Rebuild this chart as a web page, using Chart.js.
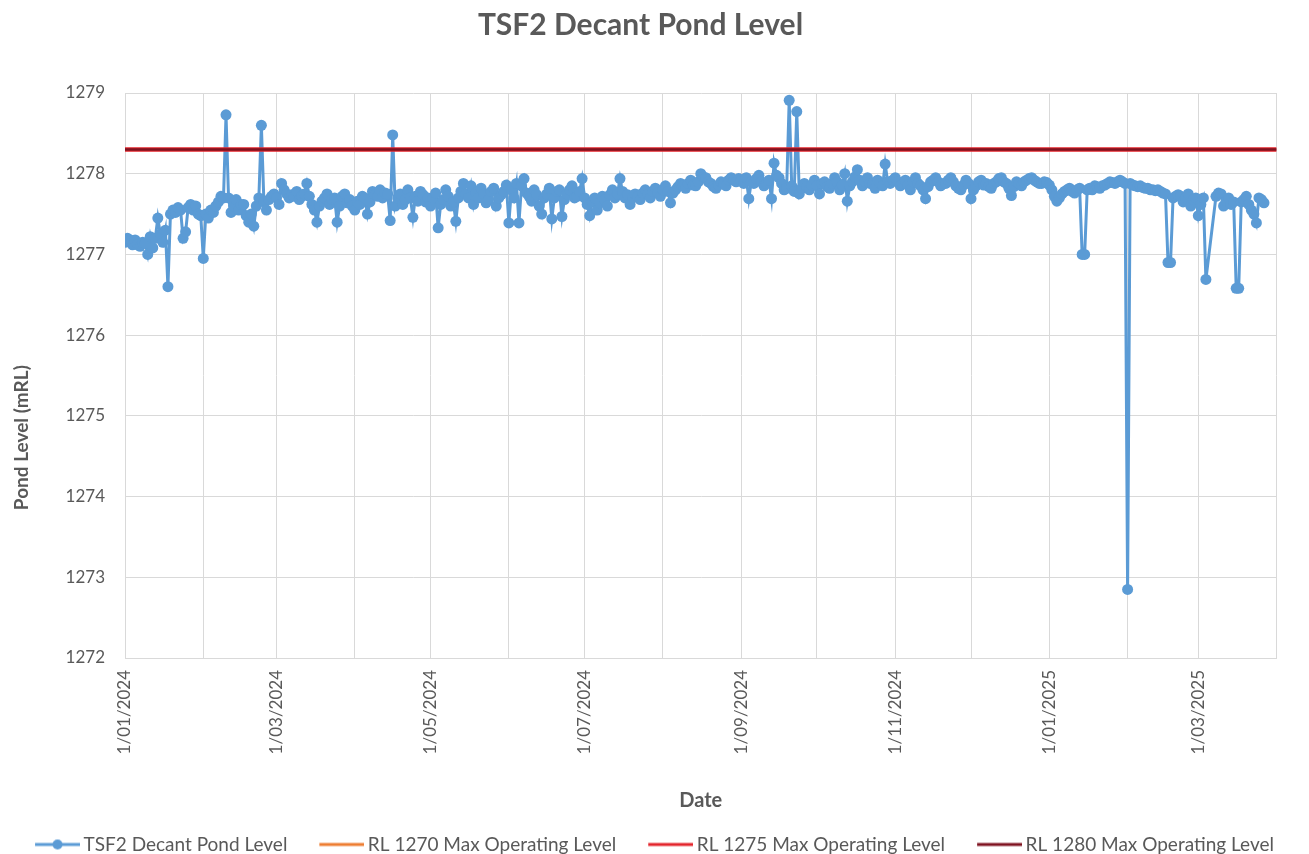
<!DOCTYPE html>
<html>
<head>
<meta charset="utf-8">
<script src="https://cdn.jsdelivr.net/npm/chart.js@4.4.1/dist/chart.umd.min.js"></script>
<style>
  html, body { margin: 0; padding: 0; background: #fff; }
  #wrap { width: 1309px; height: 854px; }
</style>
</head>
<body>
<div id="wrap"><canvas id="chart" width="1309" height="854"></canvas></div>
<script>
// daily readings: date and pond level (mRL)
const dates = [
  // Jan 2024
  '2024-01-01','2024-01-02','2024-01-03','2024-01-04','2024-01-05','2024-01-06','2024-01-07','2024-01-08','2024-01-09','2024-01-10',
  '2024-01-11','2024-01-12','2024-01-13','2024-01-14','2024-01-15','2024-01-16','2024-01-17','2024-01-18','2024-01-19','2024-01-20',
  '2024-01-21','2024-01-22','2024-01-23','2024-01-24','2024-01-25','2024-01-26','2024-01-27','2024-01-28','2024-01-29','2024-01-30','2024-01-31',
  // Feb 2024
  '2024-02-01','2024-02-02','2024-02-03','2024-02-04','2024-02-05','2024-02-06','2024-02-07','2024-02-08','2024-02-09','2024-02-10',
  '2024-02-11','2024-02-12','2024-02-13','2024-02-14','2024-02-15','2024-02-16','2024-02-17','2024-02-18','2024-02-19','2024-02-20',
  '2024-02-21','2024-02-22','2024-02-23','2024-02-24','2024-02-25','2024-02-26','2024-02-27','2024-02-28','2024-02-29',
  // Mar 2024
  '2024-03-01','2024-03-02','2024-03-03','2024-03-04','2024-03-05','2024-03-06','2024-03-07','2024-03-08','2024-03-09','2024-03-10',
  '2024-03-11','2024-03-12','2024-03-13','2024-03-14','2024-03-15','2024-03-16','2024-03-17','2024-03-18','2024-03-19','2024-03-20',
  '2024-03-21','2024-03-22','2024-03-23','2024-03-24','2024-03-25','2024-03-26','2024-03-27','2024-03-28','2024-03-29','2024-03-30','2024-03-31',
  // Apr 2024
  '2024-04-01','2024-04-02','2024-04-03','2024-04-04','2024-04-05','2024-04-06','2024-04-07','2024-04-08','2024-04-09','2024-04-10',
  '2024-04-11','2024-04-12','2024-04-13','2024-04-14','2024-04-15','2024-04-16','2024-04-17','2024-04-18','2024-04-19','2024-04-20',
  '2024-04-21','2024-04-22','2024-04-23','2024-04-24','2024-04-25','2024-04-26','2024-04-27','2024-04-28','2024-04-29','2024-04-30',
  // May 2024
  '2024-05-01','2024-05-02','2024-05-03','2024-05-04','2024-05-05','2024-05-06','2024-05-07','2024-05-08','2024-05-09','2024-05-10',
  '2024-05-11','2024-05-12','2024-05-13','2024-05-14','2024-05-15','2024-05-16','2024-05-17','2024-05-18','2024-05-19','2024-05-20',
  '2024-05-21','2024-05-22','2024-05-23','2024-05-24','2024-05-25','2024-05-26','2024-05-27','2024-05-28','2024-05-29','2024-05-30','2024-05-31',
  // Jun 2024
  '2024-06-01','2024-06-02','2024-06-03','2024-06-04','2024-06-05','2024-06-06','2024-06-07','2024-06-08','2024-06-09','2024-06-10',
  '2024-06-11','2024-06-12','2024-06-13','2024-06-14','2024-06-15','2024-06-16','2024-06-17','2024-06-18','2024-06-19','2024-06-20',
  '2024-06-21','2024-06-22','2024-06-23','2024-06-24','2024-06-25','2024-06-26','2024-06-27','2024-06-28','2024-06-29','2024-06-30',
  // Jul 2024
  '2024-07-01','2024-07-02','2024-07-03','2024-07-04','2024-07-05','2024-07-06','2024-07-07','2024-07-08','2024-07-09','2024-07-10',
  '2024-07-11','2024-07-12','2024-07-13','2024-07-14','2024-07-15','2024-07-16','2024-07-17','2024-07-18','2024-07-19','2024-07-20',
  '2024-07-21','2024-07-22','2024-07-23','2024-07-24','2024-07-25','2024-07-26','2024-07-27','2024-07-28','2024-07-29','2024-07-30','2024-07-31',
  // Aug 2024
  '2024-08-01','2024-08-02','2024-08-03','2024-08-04','2024-08-05','2024-08-06','2024-08-07','2024-08-08','2024-08-09','2024-08-10',
  '2024-08-11','2024-08-12','2024-08-13','2024-08-14','2024-08-15','2024-08-16','2024-08-17','2024-08-18','2024-08-19','2024-08-20',
  '2024-08-21','2024-08-22','2024-08-23','2024-08-24','2024-08-25','2024-08-26','2024-08-27','2024-08-28','2024-08-29','2024-08-30','2024-08-31',
  // Sep 2024
  '2024-09-01','2024-09-02','2024-09-03','2024-09-04','2024-09-05','2024-09-06','2024-09-07','2024-09-08','2024-09-09','2024-09-10',
  '2024-09-11','2024-09-12','2024-09-13','2024-09-14','2024-09-15','2024-09-16','2024-09-17','2024-09-18','2024-09-19','2024-09-20',
  '2024-09-21','2024-09-22','2024-09-23','2024-09-24','2024-09-25','2024-09-26','2024-09-27','2024-09-28','2024-09-29','2024-09-30',
  // Oct 2024
  '2024-10-01','2024-10-02','2024-10-03','2024-10-04','2024-10-05','2024-10-06','2024-10-07','2024-10-08','2024-10-09','2024-10-10',
  '2024-10-11','2024-10-12','2024-10-13','2024-10-14','2024-10-15','2024-10-16','2024-10-17','2024-10-18','2024-10-19','2024-10-20',
  '2024-10-21','2024-10-22','2024-10-23','2024-10-24','2024-10-25','2024-10-26','2024-10-27','2024-10-28','2024-10-29','2024-10-30','2024-10-31',
  // Nov 2024
  '2024-11-01','2024-11-02','2024-11-03','2024-11-04','2024-11-05','2024-11-06','2024-11-07','2024-11-08','2024-11-09','2024-11-10',
  '2024-11-11','2024-11-12','2024-11-13','2024-11-14','2024-11-15','2024-11-16','2024-11-17','2024-11-18','2024-11-19','2024-11-20',
  '2024-11-21','2024-11-22','2024-11-23','2024-11-24','2024-11-25','2024-11-26','2024-11-27','2024-11-28','2024-11-29','2024-11-30',
  // Dec 2024
  '2024-12-01','2024-12-02','2024-12-03','2024-12-04','2024-12-05','2024-12-06','2024-12-07','2024-12-08','2024-12-09','2024-12-10',
  '2024-12-11','2024-12-12','2024-12-13','2024-12-14','2024-12-15','2024-12-16','2024-12-17','2024-12-18','2024-12-19','2024-12-20',
  '2024-12-21','2024-12-22','2024-12-23','2024-12-24','2024-12-25','2024-12-26','2024-12-27','2024-12-28','2024-12-29','2024-12-30','2024-12-31',
  // Jan 2025
  '2025-01-01','2025-01-02','2025-01-03','2025-01-04','2025-01-05','2025-01-06','2025-01-07','2025-01-08','2025-01-09','2025-01-10',
  '2025-01-11','2025-01-12','2025-01-13','2025-01-14','2025-01-15','2025-01-16','2025-01-17','2025-01-18','2025-01-19','2025-01-20',
  '2025-01-21','2025-01-22','2025-01-23','2025-01-24','2025-01-25','2025-01-26','2025-01-27','2025-01-28','2025-01-29','2025-01-30','2025-01-31',
  // Feb 2025
  '2025-02-01','2025-02-02','2025-02-03','2025-02-04','2025-02-05','2025-02-06','2025-02-07','2025-02-08','2025-02-09','2025-02-10',
  '2025-02-11','2025-02-12','2025-02-13','2025-02-14','2025-02-15','2025-02-16','2025-02-17','2025-02-18','2025-02-19','2025-02-20',
  '2025-02-21','2025-02-22','2025-02-23','2025-02-24','2025-02-25','2025-02-26','2025-02-27','2025-02-28',
  // Mar 2025
  '2025-03-01','2025-03-02','2025-03-03','2025-03-04','2025-03-08','2025-03-09','2025-03-10','2025-03-11','2025-03-12','2025-03-13',
  '2025-03-14','2025-03-15','2025-03-16','2025-03-17','2025-03-18','2025-03-19','2025-03-20','2025-03-21','2025-03-22','2025-03-23',
  '2025-03-24','2025-03-25','2025-03-26','2025-03-27'
];
const levels = [
  // Jan 2024
  1277.15,1277.20,1277.18,1277.12,1277.18,1277.12,1277.10,1277.15,1277.14,1277.00,
  1277.22,1277.08,1277.20,1277.45,1277.25,1277.15,1277.30,1276.60,1277.50,1277.55,
  1277.52,1277.58,1277.55,1277.20,1277.28,1277.58,1277.62,1277.55,1277.60,1277.50,1277.48,
  // Feb 2024
  1276.95,1277.50,1277.45,1277.55,1277.52,1277.60,1277.65,1277.72,1277.70,1278.73,
  1277.70,1277.52,1277.60,1277.68,1277.55,1277.62,1277.62,1277.48,1277.40,1277.50,
  1277.35,1277.60,1277.70,1278.60,1277.65,1277.55,1277.68,1277.72,1277.75,
  // Mar 2024
  1277.70,1277.62,1277.88,1277.80,1277.75,1277.70,1277.74,1277.72,1277.78,1277.68,
  1277.72,1277.75,1277.88,1277.72,1277.62,1277.55,1277.40,1277.60,1277.66,1277.70,
  1277.75,1277.62,1277.68,1277.70,1277.40,1277.60,1277.72,1277.75,1277.64,1277.68,1277.60,
  // Apr 2024
  1277.55,1277.66,1277.62,1277.72,1277.70,1277.50,1277.65,1277.78,1277.74,1277.72,
  1277.80,1277.70,1277.76,1277.75,1277.42,1278.48,1277.60,1277.70,1277.75,1277.62,
  1277.68,1277.80,1277.70,1277.46,1277.72,1277.66,1277.78,1277.74,1277.65,1277.70,
  // May 2024
  1277.60,1277.70,1277.76,1277.33,1277.62,1277.68,1277.80,1277.72,1277.60,1277.65,
  1277.41,1277.70,1277.78,1277.88,1277.75,1277.70,1277.85,1277.62,1277.76,1277.70,
  1277.82,1277.75,1277.64,1277.68,1277.78,1277.82,1277.60,1277.70,1277.74,1277.78,1277.86,
  // Jun 2024
  1277.39,1277.80,1277.70,1277.88,1277.39,1277.85,1277.94,1277.76,1277.72,1277.66,
  1277.80,1277.74,1277.60,1277.50,1277.70,1277.75,1277.82,1277.44,1277.70,1277.78,
  1277.80,1277.47,1277.68,1277.75,1277.80,1277.85,1277.70,1277.72,1277.78,1277.94,
  // Jul 2024
  1277.70,1277.62,1277.48,1277.65,1277.70,1277.55,1277.64,1277.72,1277.68,1277.60,
  1277.74,1277.80,1277.70,1277.75,1277.94,1277.78,1277.70,1277.74,1277.62,1277.70,
  1277.75,1277.72,1277.68,1277.76,1277.80,1277.74,1277.70,1277.78,1277.82,1277.76,1277.72,
  // Aug 2024
  1277.80,1277.85,1277.78,1277.64,1277.76,1277.80,1277.84,1277.88,1277.85,1277.82,
  1277.88,1277.92,1277.86,1277.85,1277.90,1278.00,1277.96,1277.95,1277.90,1277.88,
  1277.84,1277.82,1277.86,1277.90,1277.88,1277.85,1277.92,1277.95,1277.92,1277.90,1277.94,
  // Sep 2024
  1277.92,1277.88,1277.95,1277.69,1277.90,1277.88,1277.94,1277.98,1277.90,1277.85,
  1277.88,1277.92,1277.69,1278.13,1277.98,1277.95,1277.88,1277.80,1277.82,1278.91,
  1277.85,1277.78,1278.77,1277.75,1277.82,1277.88,1277.84,1277.80,1277.86,1277.92,
  // Oct 2024
  1277.85,1277.75,1277.88,1277.90,1277.84,1277.82,1277.88,1277.95,1277.90,1277.80,
  1277.86,1278.00,1277.66,1277.85,1277.90,1277.96,1278.05,1277.92,1277.85,1277.90,
  1277.95,1277.88,1277.88,1277.82,1277.92,1277.88,1277.85,1278.12,1277.90,1277.88,1277.92,
  // Nov 2024
  1277.95,1277.90,1277.85,1277.88,1277.92,1277.86,1277.80,1277.90,1277.95,1277.88,
  1277.85,1277.80,1277.69,1277.84,1277.90,1277.92,1277.95,1277.90,1277.85,1277.88,
  1277.88,1277.92,1277.95,1277.90,1277.85,1277.82,1277.80,1277.86,1277.92,1277.88,
  // Dec 2024
  1277.69,1277.80,1277.85,1277.90,1277.92,1277.86,1277.88,1277.84,1277.82,1277.88,
  1277.90,1277.94,1277.95,1277.90,1277.88,1277.82,1277.73,1277.84,1277.90,1277.88,
  1277.85,1277.90,1277.92,1277.94,1277.95,1277.92,1277.90,1277.88,1277.88,1277.90,1277.89,
  // Jan 2025
  1277.86,1277.80,1277.72,1277.66,1277.70,1277.75,1277.78,1277.80,1277.82,1277.78,
  1277.76,1277.80,1277.82,1277.00,1277.00,1277.80,1277.82,1277.80,1277.85,1277.84,
  1277.82,1277.85,1277.86,1277.88,1277.90,1277.89,1277.88,1277.90,1277.92,1277.90,1277.88,
  // Feb 2025
  1272.85,1277.88,1277.86,1277.85,1277.84,1277.85,1277.83,1277.82,1277.82,1277.80,
  1277.80,1277.79,1277.80,1277.78,1277.76,1277.75,1276.90,1276.90,1277.70,1277.72,
  1277.74,1277.72,1277.65,1277.70,1277.75,1277.60,1277.68,1277.70,
  // Mar 2025
  1277.48,1277.62,1277.70,1276.69,1277.72,1277.76,1277.75,1277.60,1277.66,1277.70,
  1277.62,1277.65,1276.58,1276.58,1277.65,1277.68,1277.72,1277.62,1277.55,1277.50,
  1277.39,1277.70,1277.68,1277.64
];

// operating level lines (start / end of the axis)
const rlDates = ['2024-01-01', '2025-04-01'];
const rl1270 = [1270, 1270];
const rl1275 = [1278.3, 1278.3];
const rl1280 = [1278.3, 1278.3];

// month gridlines and their labels
const monthTicks = [
  '2024-01-01','2024-02-01','2024-03-01','2024-04-01','2024-05-01','2024-06-01','2024-07-01','2024-08-01',
  '2024-09-01','2024-10-01','2024-11-01','2024-12-01','2025-01-01','2025-02-01','2025-03-01','2025-04-01'
];
const tickLabels = [
  '1/01/2024','','1/03/2024','','1/05/2024','','1/07/2024','',
  '1/09/2024','','1/11/2024','','1/01/2025','','1/03/2025',''
];

const seriesNames = ['TSF2 Decant Pond Level', 'RL 1270 Max Operating Level', 'RL 1275 Max Operating Level', 'RL 1280 Max Operating Level'];
const yTitle = 'Pond Level (mRL)';

if (dates.length !== levels.length) console.warn('length mismatch', dates.length, levels.length);

const t0 = Date.UTC(2024, 0, 1);
function dayNum(s) {
  const p = s.split('-').map(Number);
  return (Date.UTC(p[0], p[1] - 1, p[2]) - t0) / 86400000;
}
const tickDays = monthTicks.map(dayNum);

// legend key: transparent lead-in, then a 45px line (with a dot for the data series)
function legendIcon(color, dot) {
  const c = document.createElement('canvas');
  c.width = 79; c.height = 14;
  const g = c.getContext('2d');
  g.strokeStyle = color; g.lineWidth = 3;
  g.beginPath(); g.moveTo(34, 7); g.lineTo(79, 7); g.stroke();
  if (dot) {
    g.fillStyle = color;
    g.beginPath(); g.arc(56.5, 7, 5, 0, Math.PI * 2); g.fill();
  }
  return c;
}

Chart.defaults.font.family = 'Lato';
Chart.defaults.color = '#595959';

const gridColor = '#d9d9d9';
const textColor = '#595959';

// y axis title sits a little below the middle of the plot, as in the original
const yTitlePlugin = {
  id: 'yTitle',
  afterDraw(chart) {
    const c = chart.ctx;
    const area = chart.chartArea;
    c.save();
    c.translate(22, area.top + (area.bottom - area.top) * 0.61);
    c.rotate(-Math.PI / 2);
    c.font = 'bold 19px Lato';
    c.fillStyle = textColor;
    c.textAlign = 'center';
    c.textBaseline = 'middle';
    c.fillText(yTitle, 0, 0);
    c.restore();
  }
};

const ctx = document.getElementById('chart').getContext('2d');
new Chart(ctx, {
  type: 'line',
  data: {
    datasets: [
      {
        label: seriesNames[0],
        data: dates.map((d, i) => ({ x: dayNum(d), y: levels[i] })),
        borderColor: '#5B9BD5', backgroundColor: '#5B9BD5',
        borderWidth: 3, pointRadius: 5.5, pointBorderWidth: 0,
        pointBackgroundColor: '#5B9BD5', order: 3, icon: legendIcon('#5B9BD5', true)
      },
      {
        label: seriesNames[1],
        data: rlDates.map((d, i) => ({ x: dayNum(d), y: rl1270[i] })),
        borderColor: '#ED7D31', borderWidth: 3, pointRadius: 0, order: 2,
        icon: legendIcon('#ED7D31', false)
      },
      {
        label: seriesNames[2],
        data: rlDates.map((d, i) => ({ x: dayNum(d), y: rl1275[i] })),
        borderColor: '#E3242B', borderWidth: 4.5, pointRadius: 0, order: 1,
        icon: legendIcon('#E3242B', false)
      },
      {
        label: seriesNames[3],
        data: rlDates.map((d, i) => ({ x: dayNum(d), y: rl1280[i] })),
        borderColor: '#7F1320', borderWidth: 2.5, pointRadius: 0, order: 0,
        icon: legendIcon('#7F1320', false)
      }
    ]
  },
  plugins: [yTitlePlugin],
  options: {
    responsive: false,
    devicePixelRatio: 1,
    animation: false,
    layout: { padding: { left: 0, right: 28, top: 0, bottom: -10 } },
    plugins: {
      tooltip: { enabled: false },
      title: {
        display: true,
        text: 'TSF2 Decant Pond Level',
        font: { size: 30, weight: 'bold' },
        color: textColor,
        padding: { top: 7, bottom: 50 }
      },
      legend: {
        position: 'bottom',
        labels: {
          usePointStyle: true,
          pointStyleWidth: 67,
          padding: 4,
          font: { size: 19 },
          color: textColor,
          generateLabels: (chart) => chart.data.datasets.map((ds, i) => ({
            text: ds.label, pointStyle: ds.icon, fillStyle: ds.borderColor,
            strokeStyle: ds.borderColor, fontColor: textColor, lineWidth: 0,
            hidden: false, datasetIndex: i
          }))
        }
      }
    },
    scales: {
      x: {
        type: 'linear',
        min: tickDays[0],
        max: tickDays[tickDays.length - 1],
        afterBuildTicks: (scale) => { scale.ticks = tickDays.map(v => ({ value: v })); },
        afterFit: (scale) => { scale.height = 173; },
        ticks: {
          autoSkip: false, minRotation: 90, maxRotation: 90, padding: 12,
          font: { size: 17 }, color: textColor,
          callback: (v) => tickLabels[tickDays.indexOf(v)]
        },
        grid: { color: gridColor, drawTicks: false },
        border: { color: gridColor },
        title: {
          display: true, text: 'Date', font: { size: 20, weight: 'bold' },
          color: textColor, padding: { top: 0, bottom: 18 }
        }
      },
      y: {
        min: 1272, max: 1279,
        afterFit: (scale) => { scale.width = 125; },
        ticks: {
          stepSize: 1, padding: 20, font: { size: 17 }, color: textColor,
          callback: (v) => String(v)
        },
        grid: { color: gridColor, drawTicks: false },
        border: { color: gridColor },
        title: { display: false }
      }
    }
  }
});
</script>
</body>
</html>
